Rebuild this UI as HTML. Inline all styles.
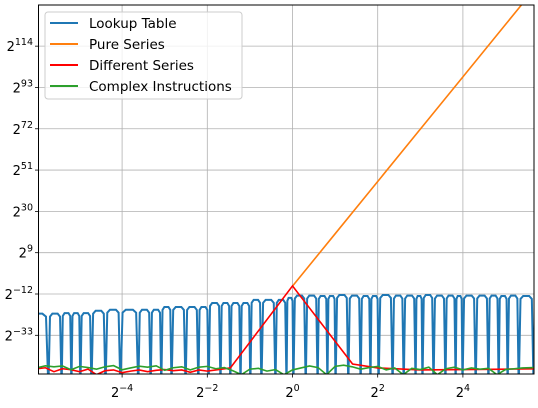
<!DOCTYPE html>
<html><head><meta charset="utf-8"><style>
body{margin:0;background:#fff;width:538px;height:403px;overflow:hidden}
text{font-family:"DejaVu Sans","Liberation Sans",sans-serif;fill:#000}
</style></head><body>
<svg id="chart" width="538" height="403" xmlns="http://www.w3.org/2000/svg">
<defs><clipPath id="clip"><rect x="38.5" y="5" width="495.5" height="369"/></clipPath></defs>
<g id="grid"></g>
<g id="series" clip-path="url(#clip)"></g>
<rect x="38.5" y="5" width="495.5" height="369" fill="none" stroke="#000" stroke-width="1"/>
<g id="ticks"></g>
<g id="legend">
<rect x="45" y="12" width="197" height="87" rx="3" fill="#fff" fill-opacity="0.8" stroke="#ccc"/>
<line x1="50" y1="23" x2="78" y2="23" stroke="#1f77b4" stroke-width="2"/>
<text x="89" y="28" font-size="13.5">Lookup Table</text>
<line x1="50" y1="44" x2="78" y2="44" stroke="#ff7f0e" stroke-width="2"/>
<text x="89" y="49" font-size="13.5">Pure Series</text>
<line x1="50" y1="65" x2="78" y2="65" stroke="#ff0000" stroke-width="2"/>
<text x="89" y="70" font-size="13.5">Different Series</text>
<line x1="50" y1="86" x2="78" y2="86" stroke="#2ca02c" stroke-width="2"/>
<text x="89" y="91" font-size="13.5">Complex Instructions</text>
</g>
</svg>
<script>
const xTicks=[-4,-2,0,2,4];
const yTicks=[-33,-12,9,30,51,72,93,114];
const blueDips=[-5.73,-5.42,-5.19,-4.98,-4.72,-4.39,-4.04,-3.62,-3.33,-3.08,-2.84,-2.51,-2.21,-1.97,-1.69,-1.46,-1.22,-0.99,-0.73,-0.40,-0.14,0.02,0.31,0.59,0.82,1.01,1.31,1.60,1.83,2.02,2.35,2.61,2.89,3.05,3.31,3.59,3.83,3.99,4.30,4.60,4.84,5.05,5.31,5.66];
const bluePeaks=[-22,-22,-21.7,-21.7,-21.7,-20.5,-20,-20,-20,-20,-18.6,-18.6,-18.6,-18.6,-16.6,-16.6,-16.6,-16.6,-15,-15,-15,-14,-12.8,-12.8,-13,-13,-12.5,-12.8,-13,-13,-12.5,-12.8,-12.8,-13,-12.5,-12.8,-12.8,-13,-12.8,-12.8,-12.8,-13,-12.8,-13,-13];
const greenX=[-6,-5.8,-5.6,-5.4,-5.2,-5,-4.8,-4.6,-4.4,-4.2,-4,-3.8,-3.6,-3.4,-3.2,-3,-2.8,-2.6,-2.4,-2.2,-2,-1.8,-1.6,-1.4,-1.2,-1,-0.8,-0.6,-0.4,-0.2,0,0.2,0.4,0.6,0.8,1,1.2,1.4,1.6,1.8,2,2.2,2.4,2.6,2.8,3,3.2,3.4,3.6,3.8,4,4.2,4.4,4.6,4.8,5,5.2,5.4,5.7];
const greenY=[-49.5,-48.5,-49,-48.6,-50.5,-48.8,-49.4,-50.2,-49,-48.4,-50.5,-49.6,-48.7,-49.2,-48.5,-50.8,-49.5,-49,-50.6,-49.2,-48.8,-50,-49.4,-51,-53,-50.2,-49.8,-51.2,-50.4,-53,-50.6,-49.6,-48.6,-49.4,-53,-48.8,-48.2,-49,-50.2,-49.4,-48.8,-50.6,-49.6,-53,-49.8,-50.4,-49.2,-53,-50,-49.2,-50.6,-49.6,-50.2,-49.8,-53,-50.4,-50,-49.6,-49.4];
const redX=[-6,-5.8,-5.6,-5.4,-5.2,-5,-4.8,-4.6,-4.4,-4.2,-4,-3.8,-3.6,-3.4,-3.2,-3,-2.8,-2.6,-2.4,-2.2,-2,-1.8,-1.46,0,1.41,2,3,4,5,5.7];
const redY=[-50,-49.5,-51.5,-50,-50.5,-51.5,-50.2,-53,-51,-50.6,-52,-51.2,-50.6,-51.5,-50.8,-50.4,-51,-50.6,-51.8,-50.6,-51.2,-50.6,-49.6,-7.9,-47.6,-49.6,-50.6,-50.4,-50.2,-50];
const orangeX=[0,1,2,3,4,5,6];
const orangeY=[-8,18.6,45.2,71.8,98.4,125,151.6];
const NS="http://www.w3.org/2000/svg";
function xs(e){return 292.5+e*42.6;}
function ys(e){return 294-(e+12)*1.967;}
function mk(t,a,p){const el=document.createElementNS(NS,t);for(const k in a)el.setAttribute(k,a[k]);p.appendChild(el);return el;}
const grid=document.getElementById('grid'),ticks=document.getElementById('ticks'),ser=document.getElementById('series');
xTicks.forEach(v=>{const x=xs(v);
 const g=mk('line',{x1:x,y1:5,x2:x,y2:374,stroke:'#b0b0b0','stroke-width':0.8},grid);
 
 
 const t=mk('line',{x1:x,y1:374,x2:x,y2:377.5,stroke:'#000','stroke-width':0.8},ticks);
 
 
 const tx=mk('text',{x:x,y:397,'font-size':13,'text-anchor':'middle'},ticks);
 
 
 tx.innerHTML='2<tspan dy="-6" font-size="9.5">'+(v<0?'\u2212'+(-v):v)+'</tspan>';});
yTicks.forEach(v=>{const y=ys(v);
 const g=mk('line',{x1:38.5,y1:y,x2:534,y2:y,stroke:'#b0b0b0','stroke-width':0.8},grid);
 
 
 const t=mk('line',{x1:35,y1:y,x2:38.5,y2:y,stroke:'#000','stroke-width':0.8},ticks);
 
 
 const tx=mk('text',{x:33,y:y+5,'font-size':13,'text-anchor':'end'},ticks);
 
 
 tx.innerHTML='2<tspan dy="-6" font-size="9.5">'+(v<0?'\u2212'+(-v):v)+'</tspan>';});
let bp=[];const bounds=[-6.2].concat(blueDips).concat([5.9]);
for(let i=0;i<bounds.length-1;i++){const a=bounds[i],b=bounds[i+1],pk=bluePeaks[Math.min(i,bluePeaks.length-1)];
 const w=b-a;
 bp.push([xs(a),ys(-60)],[xs(a+w*0.12),ys(pk-1.5)],[xs(a+w*0.3),ys(pk)],[xs(b-w*0.3),ys(pk)],[xs(b-w*0.12),ys(pk-1.5)]);}
bp.push([xs(5.9),ys(-60)]);
const bl=mk('polyline',{points:bp.map(p=>p.join(',')).join(' '),fill:'none',stroke:'#1f77b4','stroke-width':2},ser);


function line(X,Y,c,name){const el=mk('polyline',{points:X.map((x,i)=>xs(x)+','+ys(Y[i])).join(' '),fill:'none',stroke:c,'stroke-width':1.6},ser);
 
 }
line(orangeX,orangeY,'#ff7f0e','pure-series-line');
line(redX,redY,'#ff0000','different-series-line');
line(greenX,greenY,'#2ca02c','complex-instructions-line');
</script>
</body></html>
